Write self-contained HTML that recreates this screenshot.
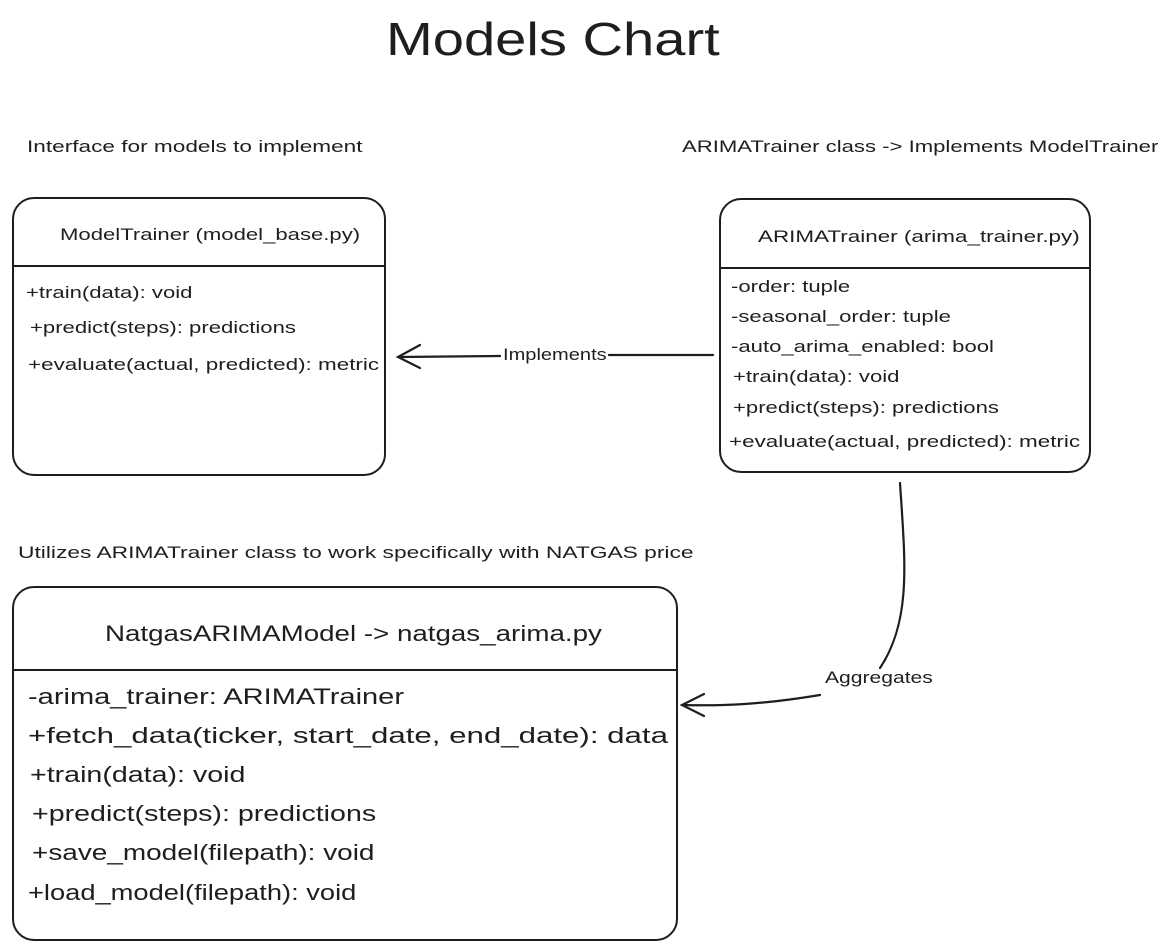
<!DOCTYPE html>
<html><head><meta charset="utf-8"><style>
html,body{margin:0;padding:0;background:#fff;}
body{width:1166px;height:950px;position:relative;overflow:hidden;font-family:"Liberation Sans",sans-serif;color:#1e1e1e;}
.t{position:absolute;white-space:nowrap;transform-origin:0 50%;}
.box{position:absolute;border:2px solid #1e1e1e;border-radius:22px;box-sizing:border-box;}
.hl{position:absolute;height:0;border-top:2.5px solid #1e1e1e;}
</style></head><body>
<div class="t" style="left:386px;top:12px;font-size:46px;transform:scaleX(1.22);">Models Chart</div>
<div class="t" style="left:27px;top:137px;font-size:17px;transform:scaleX(1.33);">Interface for models to implement</div>
<div class="t" style="left:682px;top:137px;font-size:17px;transform:scaleX(1.3);">ARIMATrainer class -&gt; Implements ModelTrainer</div>

<div class="box" style="left:12px;top:197px;width:374px;height:279px;"></div>
<div class="hl" style="left:12px;top:265px;width:372px;"></div>
<div class="t" style="left:60px;top:225px;font-size:17px;transform:scaleX(1.3);">ModelTrainer (model_base.py)</div>
<div class="t" style="left:26px;top:283px;font-size:17px;transform:scaleX(1.3);">+train(data): void</div>
<div class="t" style="left:30px;top:318px;font-size:17px;transform:scaleX(1.3);">+predict(steps): predictions</div>
<div class="t" style="left:28px;top:355px;font-size:17px;transform:scaleX(1.32);">+evaluate(actual, predicted): metric</div>

<div class="box" style="left:719px;top:198px;width:372px;height:275px;"></div>
<div class="hl" style="left:719px;top:267px;width:370px;"></div>
<div class="t" style="left:758px;top:227px;font-size:17px;transform:scaleX(1.32);">ARIMATrainer (arima_trainer.py)</div>
<div class="t" style="left:731px;top:277px;font-size:17px;transform:scaleX(1.3);">-order: tuple</div>
<div class="t" style="left:731px;top:307px;font-size:17px;transform:scaleX(1.3);">-seasonal_order: tuple</div>
<div class="t" style="left:731px;top:337px;font-size:17px;transform:scaleX(1.3);">-auto_arima_enabled: bool</div>
<div class="t" style="left:733px;top:367px;font-size:17px;transform:scaleX(1.3);">+train(data): void</div>
<div class="t" style="left:733px;top:398px;font-size:17px;transform:scaleX(1.3);">+predict(steps): predictions</div>
<div class="t" style="left:729px;top:432px;font-size:17px;transform:scaleX(1.32);">+evaluate(actual, predicted): metric</div>

<div class="t" style="left:18px;top:543px;font-size:17px;transform:scaleX(1.34);">Utilizes ARIMATrainer class to work specifically with NATGAS price</div>

<div class="box" style="left:12px;top:586px;width:666px;height:355px;"></div>
<div class="hl" style="left:12px;top:669px;width:664px;"></div>
<div class="t" style="left:105px;top:621px;font-size:22px;transform:scaleX(1.26);">NatgasARIMAModel -&gt; natgas_arima.py</div>
<div class="t" style="left:28px;top:684px;font-size:22px;transform:scaleX(1.32);">-arima_trainer: ARIMATrainer</div>
<div class="t" style="left:28px;top:723px;font-size:22px;transform:scaleX(1.42);">+fetch_data(ticker, start_date, end_date): data</div>
<div class="t" style="left:30px;top:762px;font-size:22px;transform:scaleX(1.3);">+train(data): void</div>
<div class="t" style="left:32px;top:801px;font-size:22px;transform:scaleX(1.3);">+predict(steps): predictions</div>
<div class="t" style="left:32px;top:840px;font-size:22px;transform:scaleX(1.27);">+save_model(filepath): void</div>
<div class="t" style="left:28px;top:880px;font-size:22px;transform:scaleX(1.24);">+load_model(filepath): void</div>

<svg width="1166" height="950" style="position:absolute;left:0;top:0;" fill="none" stroke="#1e1e1e" stroke-width="2.2" stroke-linecap="round">
<path d="M713 355 L609 355"/>
<path d="M500 356 L398 357"/>
<path d="M420 345 L398 357 L420 368"/>
<path d="M900 483 C 905 560, 912 620, 880 668"/>
<path d="M820 695 C 760 705, 720 706, 682 705"/>
<path d="M704 694 L682 705 L704 716"/>
</svg>
<div class="t" style="left:503px;top:345px;font-size:17px;transform:scaleX(1.18);">Implements</div>
<div class="t" style="left:825px;top:668px;font-size:17px;transform:scaleX(1.24);">Aggregates</div>
</body></html>
